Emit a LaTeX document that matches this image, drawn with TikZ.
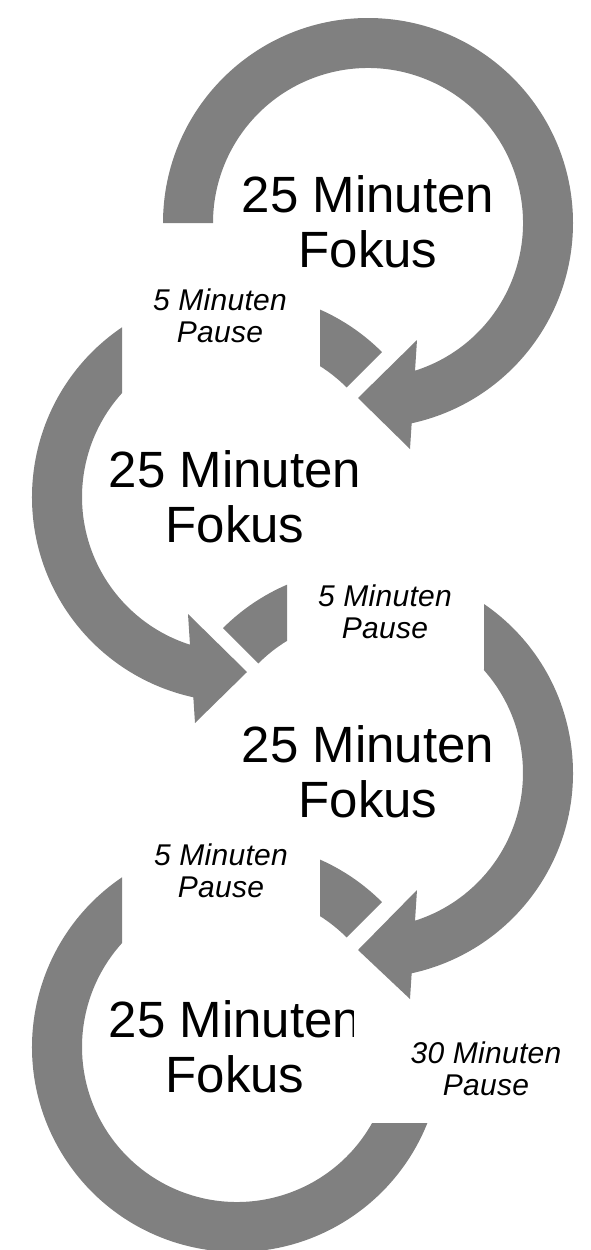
\documentclass[tikz,border=0pt]{standalone}
\usepackage{fontspec}
\setmainfont{Liberation Sans}
\newfontfamily\labfont[LetterSpace=1]{Liberation Sans}
\usetikzlibrary{calc}
\definecolor{ringgray}{RGB}{128,128,128}
\tikzset{
  ring/.style={fill=ringgray, draw=none},
  focus/.style={font=\fontsize{51}{55}\selectfont, align=center, inner sep=0pt, anchor=center, text=black},
  pause/.style={font=\labfont\itshape\fontsize{30}{32}\selectfont, align=center, inner sep=0pt, anchor=center, text=black}
}
\begin{document}
\begin{tikzpicture}[x=1pt,y=1pt]
\useasboundingbox (0,0) rectangle (590,-1250);
\coordinate (C1) at (368,-223);
\coordinate (C2) at (237,-497);
\coordinate (C3) at (368,-773);
\coordinate (C4) at (237,-1047);

% arrow 1
\fill[ring] ($(C1)+(180:205pt)$) arc[start angle=180,end angle=-77.7,radius=205pt]
  -- ($(C1)+(42,-226)$) -- ($(C1)+(-10,-175)$) -- ($(C1)+(49,-117)$)
  -- ($(C1)+(-72.34:155pt)$) arc[start angle=-72.34,end angle=180,radius=155pt] -- cycle;
% arrow 2
\fill[ring] ($(C2)+(124.12:205pt)$) arc[start angle=124.12,end angle=257.7,radius=205pt]
  -- ($(C2)+(-42,-226)$) -- ($(C2)+(10,-175)$) -- ($(C2)+(-49,-117)$)
  -- ($(C2)+(252.34:155pt)$) arc[start angle=252.34,end angle=137.9,radius=155pt] -- cycle;
\fill[ring] ($(C2)+(66.1:205pt)$) arc[start angle=66.1,end angle=45,radius=205pt]
  -- ($(C2)+(45:155pt)$) arc[start angle=45,end angle=57.6,radius=155pt] -- cycle;
% arrow 3
\fill[ring] ($(C3)+(55.5:205pt)$) arc[start angle=55.5,end angle=-77.7,radius=205pt]
  -- ($(C3)+(42,-226)$) -- ($(C3)+(-10,-177)$) -- ($(C3)+(49,-117)$)
  -- ($(C3)+(-72.34:155pt)$) arc[start angle=-72.34,end angle=41.55,radius=155pt] -- cycle;
\fill[ring] ($(C3)+(113.27:205pt)$) arc[start angle=113.27,end angle=135,radius=205pt]
  -- ($(C3)+(135:155pt)$) arc[start angle=135,end angle=121.5,radius=155pt] -- cycle;
% arc 4
\fill[ring] ($(C4)+(124.12:205pt)$) arc[start angle=124.12,end angle=338.24,radius=205pt]
  -- ($(C4)+(330.64:155pt)$) arc[start angle=330.64,end angle=137.9,radius=155pt] -- cycle;
\fill[ring] ($(C4)+(66.1:205pt)$) arc[start angle=66.1,end angle=45,radius=205pt]
  -- ($(C4)+(45:155pt)$) arc[start angle=45,end angle=57.6,radius=155pt] -- cycle;

% texts
\node[focus] (T1) at (368,-222) {25 Minuten\\Fokus};
\node[focus] (T2) at (235,-497) {25 Minuten\\Fokus};
\node[focus] (T3) at (368,-772) {25 Minuten\\Fokus};
\node[focus] (T4) at (235,-1047) {25 Minuten\\Fokus};
\fill[white] ($(T4.north east)+(-7,1)$) rectangle ($(T4.north east)+(1,-39)$);

\node[pause] (P1) at (220,-315.5) {5 Minuten\\Pause};
\node[pause] (P2) at (385,-611.5) {5 Minuten\\Pause};
\node[pause] (P3) at (221,-870.5) {5 Minuten\\Pause};
\node[pause] (P4) at (486,-1068.5) {30 Minuten\\Pause};
\end{tikzpicture}
\end{document}
